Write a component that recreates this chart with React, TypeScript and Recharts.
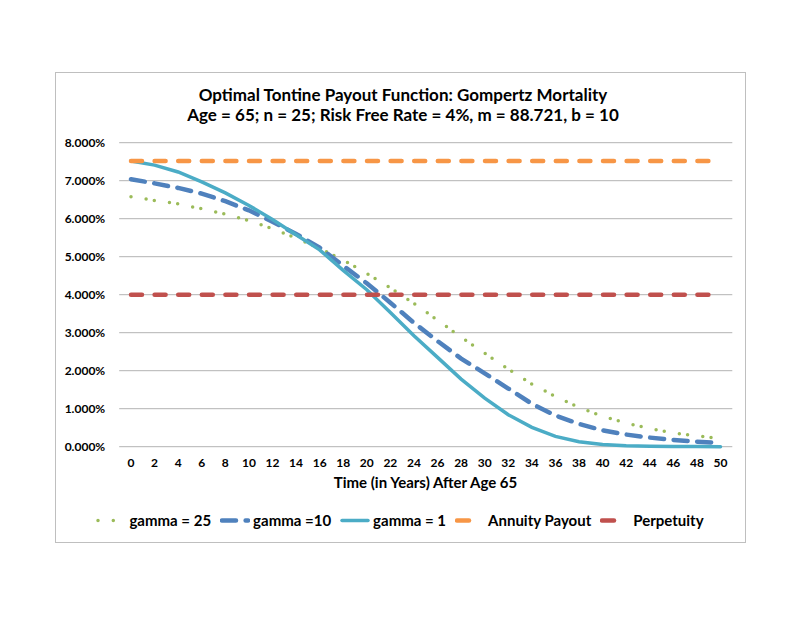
import { LineChart, Line, XAxis, YAxis, CartesianGrid } from "recharts"

// years after age 65 (category axis)
const YEARS = [0, 2, 4, 6, 8, 10, 12, 14, 16, 18, 20, 22, 24, 26, 28, 30, 32, 34, 36, 38, 40, 42, 44, 46, 48, 50]

// payout rates in percent
const GAMMA_25 = [6.58, 6.48, 6.39, 6.26, 6.12, 5.95, 5.74, 5.49, 5.22, 4.91, 4.56, 4.18, 3.77, 3.33, 2.88, 2.46, 2.04, 1.65, 1.32, 1.03, 0.8, 0.62, 0.48, 0.36, 0.28, 0.22]
const GAMMA_10 = [7.04, 6.93, 6.81, 6.66, 6.46, 6.22, 5.92, 5.6, 5.24, 4.76, 4.3, 3.79, 3.26, 2.78, 2.32, 1.93, 1.53, 1.13, 0.82, 0.6, 0.43, 0.32, 0.24, 0.18, 0.13, 0.1]
const GAMMA_1 = [7.52, 7.41, 7.23, 6.97, 6.68, 6.35, 5.98, 5.58, 5.18, 4.64, 4.13, 3.53, 2.92, 2.35, 1.78, 1.28, 0.84, 0.51, 0.27, 0.13, 0.055, 0.025, 0.01, 0.005, 0.002, 0.001]
const ANNUITY = [7.52, 7.52, 7.52, 7.52, 7.52, 7.52, 7.52, 7.52, 7.52, 7.52, 7.52, 7.52, 7.52, 7.52, 7.52, 7.52, 7.52, 7.52, 7.52, 7.52, 7.52, 7.52, 7.52, 7.52, 7.52, 7.52]
const PERPETUITY = [4, 4, 4, 4, 4, 4, 4, 4, 4, 4, 4, 4, 4, 4, 4, 4, 4, 4, 4, 4, 4, 4, 4, 4, 4, 4]

const Y_TICKS = [0, 1, 2, 3, 4, 5, 6, 7, 8]

const data = YEARS.map((year, i) => ({
  year,
  g25: GAMMA_25[i],
  g10: GAMMA_10[i],
  g1: GAMMA_1[i],
  annuity: ANNUITY[i],
  perpetuity: PERPETUITY[i],
}))

const FONT = "Lato, 'Open Sans', sans-serif"

// legend swatches: excel shows only the first bit of the pattern
const SERIES = [
  { key: "g25", name: "gamma = 25", color: "#9bbb59", width: 3.5, dash: "0 15.3 0 8.3", legendEnd: 20, legendDash: "0 15.3 0 8.3" },
  { key: "g10", name: "gamma =10", color: "#4f81bd", width: 4.5, dash: "14 9.6", legendEnd: 28, legendDash: "14 9.6" },
  { key: "g1", name: "gamma = 1", color: "#4bacc6", width: 3.5, dash: undefined, legendEnd: 28, legendDash: undefined },
  { key: "annuity", name: "Annuity Payout", color: "#f79646", width: 4.5, dash: "11 12.6", legendEnd: 14, legendDash: undefined },
  { key: "perpetuity", name: "Perpetuity", color: "#c0504d", width: 4.5, dash: "11 12.6", legendEnd: 14, legendDash: undefined },
]

const tickStyle = { fill: "#000", fontSize: 12, fontWeight: 700, fontFamily: FONT }

export default function App() {
  return (
    <div style={{ position: "absolute", left: 0, top: 0, width: 810, height: 626, background: "#fff", fontFamily: FONT }}>
      <div style={{ position: "absolute", left: 55, top: 72, width: 689, height: 469, border: "1px solid #bfbfbf" }} />
      <div
        style={{
          position: "absolute",
          left: 0,
          top: 85.4,
          width: 806,
          textAlign: "center",
          fontSize: 17,
          lineHeight: "20px",
          fontWeight: 700,
          color: "#000",
        }}
      >
        <div>Optimal Tontine Payout Function: Gompertz Mortality</div>
        <div>Age = 65; n = 25; Risk Free Rate = 4%, m = 88.721, b = 10</div>
      </div>
      <div style={{ position: "absolute", left: 0, top: 0 }}>
        <LineChart width={810} height={626} data={data} margin={{ top: 142.7, right: 77.7, bottom: 149.3, left: 0 }}>
          <CartesianGrid vertical={false} stroke="#b3b3b3" strokeWidth={1} />
          <XAxis
            dataKey="year"
            interval={0}
            padding={{ left: 11.8, right: 11.8 }}
            axisLine={false}
            tickLine={false}
            tickSize={0}
            tickMargin={11.5}
            height={30}
            tick={tickStyle}
          />
          <YAxis
            domain={[0, 8]}
            ticks={Y_TICKS}
            width={119.2}
            axisLine={false}
            tickLine={false}
            tickSize={0}
            tickMargin={14}
            tick={tickStyle}
            tickFormatter={(v: number) => `${v.toFixed(3)}%`}
          />
          {SERIES.map((s) => (
            <Line
              key={s.key}
              type="linear"
              dataKey={s.key}
              name={s.name}
              stroke={s.color}
              strokeWidth={s.width}
              strokeDasharray={s.dash}
              strokeLinecap="round"
              dot={false}
              activeDot={false}
              isAnimationActive={false}
            />
          ))}
        </LineChart>
      </div>
      <div
        style={{
          position: "absolute",
          left: 0,
          top: 474.7,
          width: 851,
          textAlign: "center",
          fontSize: 15,
          lineHeight: "15px",
          fontWeight: 700,
          color: "#000",
        }}
      >
        Time (in Years) After Age 65
      </div>
      <div
        style={{
          position: "absolute",
          left: 0,
          top: 513.4,
          width: 800,
          display: "flex",
          justifyContent: "center",
          alignItems: "center",
          gap: 9,
          fontSize: 15,
          lineHeight: "15px",
          fontWeight: 700,
          color: "#000",
        }}
      >
        {SERIES.map((s) => (
          <div key={s.key} style={{ display: "flex", alignItems: "center", gap: 3 }}>
            <svg width={30} height={15}>
              <line
                x1={2}
                y1={7.5}
                x2={s.legendEnd}
                y2={7.5}
                stroke={s.color}
                strokeWidth={s.width}
                strokeDasharray={s.legendDash}
                strokeLinecap="round"
              />
            </svg>
            <span>{s.name}</span>
          </div>
        ))}
      </div>
    </div>
  )
}
